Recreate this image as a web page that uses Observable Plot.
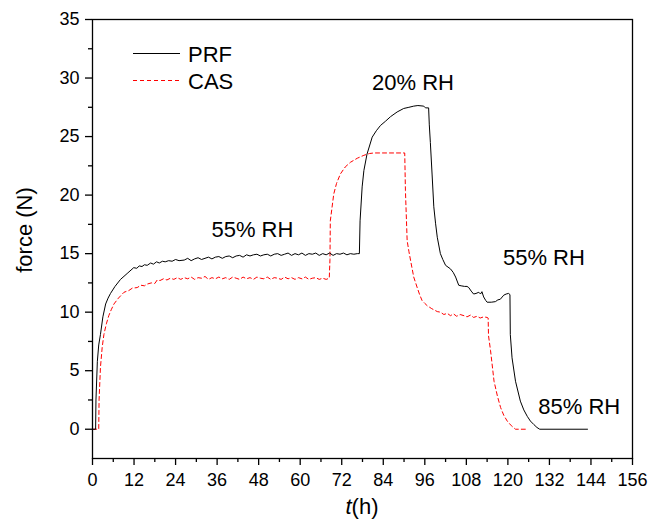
<!DOCTYPE html>
<html>
<head>
<meta charset="utf-8">
<script src="https://cdn.jsdelivr.net/npm/d3@7"></script>
<script src="https://cdn.jsdelivr.net/npm/@observablehq/plot@0.6"></script>
<style>
  html, body { margin: 0; padding: 0; background: white; }
  #chart { position: relative; width: 648px; height: 524px; }
</style>
</head>
<body>
<div id="chart"></div>
<script>
// ---- data ----
const prfT = [0, 0.9, 1.0, 1.4, 1.8, 2.3, 3.0, 3.8, 4.5, 5.2, 6.5, 8.1, 10.0, 11.9, 12.8, 13.5, 14.3, 15.0, 15.8, 16.8, 17.6, 18.5, 19.3, 20.2, 21.0, 22.0, 23.0, 24.0, 25.0,
  26.5, 27.5, 28.5, 29.5, 30.5, 31.5, 32.5, 33.5, 34.5, 35.5, 36.5, 37.5, 38.5, 39.5, 40.5, 41.5, 42.5, 43.5, 44.5, 45.5, 46.5, 47.5, 48.5, 49.5, 50.5, 51.5, 52.5, 53.5, 54.5, 55.5, 56.5, 57.5, 58.5, 59.5, 60.5, 61.5, 62.5, 63.5, 64.5, 65.5, 66.5, 67.5, 68.5, 69.5, 70.5, 71.5, 72.5, 73.5, 74.5, 75.5, 76.5, 77.1,
  77.3, 77.9, 78.4, 79.3, 80.8, 82.0, 83.2, 84.6, 86.1, 88.0, 89.9, 91.4, 92.8, 94.0, 95.7, 96.2, 97.1,
  97.3, 97.6, 98.1, 98.6, 99.1, 99.6, 100.5, 101.2, 102.0, 103.4, 104.2, 104.9, 105.8, 106.5, 107.5, 108.2, 108.7, 109.4, 110.1, 110.8, 111.6, 112.1, 112.5, 113.0, 113.6, 114.0, 115.2, 116.4, 117.1, 117.8, 118.8, 119.5, 120.2, 120.6,
  120.7, 121.2, 122.2, 123.6, 124.6, 125.6, 126.5, 127.5, 128.4, 129.2, 143.0];
const prfF = [0, 0, 2.5, 5.8, 7.2, 8.1, 9.6, 10.7, 11.2, 11.6, 12.2, 12.8, 13.3, 13.8, 13.75, 13.95, 13.9, 14.05, 14.0, 14.2, 14.1, 14.3, 14.2, 14.35, 14.3, 14.4, 14.35, 14.5, 14.4,
  14.45, 14.6, 14.4, 14.55, 14.65, 14.5, 14.6, 14.7, 14.55, 14.7, 14.75, 14.6, 14.75, 14.8, 14.65, 14.8, 14.85, 14.7, 14.9, 14.8, 14.9, 14.95, 14.8, 14.9, 14.95, 14.8, 14.95, 15.0, 14.85, 14.95, 15.05, 14.85, 15.0, 14.9, 15.05, 14.85, 15.0, 14.95, 15.05, 14.85, 15.0, 14.9, 15.05, 14.85, 15.0, 14.95, 15.05, 14.9, 15.0, 14.95, 15.0, 15.0,
  17.8, 20.7, 22.1, 23.5, 24.95, 25.5, 25.95, 26.3, 26.7, 27.1, 27.4, 27.5, 27.6, 27.65, 27.6, 27.45, 27.45,
  26.0, 24.5, 21.8, 19.0, 17.6, 16.4, 15.0, 14.5, 14.0, 13.7, 13.4, 13.0, 12.3, 12.25, 12.2, 12.2, 12.1, 11.8, 11.55, 11.6, 11.7, 11.55, 11.75, 11.3, 11.0, 10.85, 10.85, 10.9, 11.05, 11.1, 11.45, 11.55, 11.6, 11.5,
  8.1, 6.1, 4.1, 2.4, 1.65, 1.1, 0.7, 0.4, 0.15, 0, 0];

const casT = [0, 1.8, 1.9, 2.3, 2.8, 3.3, 4.0, 4.7, 5.4, 6.2, 7.5, 9.1, 10.5, 11.5, 12.9, 14.0, 15.0, 15.8, 17.0, 18.0, 18.7, 19.5, 20.5, 21.5, 22.5, 23.5, 24.5,
  25.5, 26.5, 27.5, 28.5, 29.5, 30.5, 31.5, 32.5, 33.5, 34.5, 35.5, 36.5, 37.5, 38.5, 39.5, 40.5, 41.5, 42.5, 43.5, 44.5, 45.5, 46.5, 47.5, 48.5, 49.5, 50.5, 51.5, 52.5, 53.5, 54.5, 55.5, 56.5, 57.5, 58.5, 59.5, 60.5, 61.5, 62.5, 63.5, 64.5, 65.5, 66.5, 67.5, 68.4,
  68.6, 68.7, 69.7, 70.5, 71.6, 73.0, 74.5, 76.5, 78.4, 80.0, 81.3, 90.2,
  90.3, 90.4, 90.9, 91.4, 91.9, 92.8, 93.8, 94.5, 95.2, 96.0, 96.7, 98.0, 99.6, 100.5, 101.5, 102.5, 103.4, 104.3, 105.2, 106.2, 107.3, 108.2, 109.2, 110.1, 111.1, 112.0, 113.0, 114.0, 114.3,
  114.4, 115.0, 116.0, 117.0, 117.9, 118.8, 119.8, 121.0, 122.2, 125.7];
const casF = [0, 0, 2.5, 5.3, 7.0, 8.1, 9.0, 9.7, 10.2, 10.7, 11.2, 11.7, 11.85, 12.05, 12.1, 12.3, 12.25, 12.4, 12.5, 12.45, 12.75, 12.7, 12.85, 12.75, 12.9, 12.8, 12.95,
  12.8, 12.95, 12.85, 13.0, 12.8, 12.95, 12.9, 13.05, 12.8, 12.95, 12.85, 13.0, 12.85, 12.95, 12.8, 13.0, 12.9, 12.8, 13.0, 12.85, 12.95, 12.8, 13.0, 12.9, 12.85, 13.0, 12.8, 12.95, 12.9, 12.8, 13.0, 12.85, 12.95, 12.8, 12.95, 12.85, 13.0, 12.8, 12.9, 12.95, 12.8, 12.9, 12.8, 12.9,
  14.5, 17.8, 20.1, 21.0, 21.8, 22.4, 22.8, 23.15, 23.4, 23.55, 23.6, 23.6,
  22.0, 20.4, 16.1, 15.2, 14.4, 13.0, 12.1, 11.5, 11.0, 10.75, 10.55, 10.3, 10.05, 10.0, 9.8, 9.9, 9.7, 9.85, 9.65, 9.8, 9.7, 9.6, 9.75, 9.55, 9.65, 9.5, 9.6, 9.55, 9.5,
  8.0, 6.7, 4.1, 2.8, 1.85, 1.2, 0.7, 0.3, 0, 0];

const xTicks = [0, 12, 24, 36, 48, 60, 72, 84, 96, 108, 120, 132, 144, 156];
const xMinor = [6, 18, 30, 42, 54, 66, 78, 90, 102, 114, 126, 138, 150];
const yTicks = [0, 5, 10, 15, 20, 25, 30, 35];
const yMinor = [2.5, 7.5, 12.5, 17.5, 22.5, 27.5, 32.5];

const noteLabels = ["20% RH", "55% RH", "55% RH", "85% RH"];
const noteT = [92.6, 46.2, 130.4, 140.6];
const noteF = [29.6, 17.05, 14.66, 1.93];

const seriesNames = ["PRF", "CAS"];
const axisXTitle = ["t", "(h)"];
const axisYTitle = "force (N)";

// ---- build tables ----
const prf = prfT.map((t, i) => ({t, f: prfF[i]}));
const cas = casT.map((t, i) => ({t, f: casF[i]}));
const notes = noteLabels.map((label, i) => ({label, t: noteT[i], f: noteF[i]}));

const font = "'Liberation Sans', Arial, sans-serif";

const chart = Plot.plot({
  width: 648,
  height: 524,
  marginLeft: 92,
  marginRight: 16,
  marginTop: 19,
  marginBottom: 66,
  x: {domain: [0, 156]},
  y: {domain: [-2.5, 35]},
  style: {fontFamily: font, fontSize: "18px", color: "black", background: "white", overflow: "visible"},
  marks: [
    Plot.axisX({ticks: xTicks, tickSize: 7, tickPadding: 8, fontSize: 18, label: null, strokeWidth: 1.3}),
    Plot.axisX({ticks: xMinor, tickSize: 4, tickFormat: () => "", label: null, strokeWidth: 1.3}),
    Plot.axisY({ticks: yTicks, tickSize: 7, tickPadding: 6, fontSize: 18, label: null, strokeWidth: 1.3}),
    Plot.axisY({ticks: yMinor, tickSize: 4, tickFormat: () => "", label: null, strokeWidth: 1.3}),
    Plot.line(cas, {x: "t", y: "f", stroke: "#ff0000", strokeWidth: 1, strokeDasharray: "4,3"}),
    Plot.line(prf, {x: "t", y: "f", stroke: "black", strokeWidth: 1}),
    Plot.text(notes, {x: "t", y: "f", text: "label", fontSize: 22, fill: "black"}),
    Plot.frame({stroke: "black", strokeWidth: 1.3})
  ]
});

document.getElementById("chart").appendChild(chart);

// ---- legend and axis titles (layout overlays) ----
const svg = d3.select(chart);
const lg = svg.append("g").attr("font-family", font).attr("font-size", 22).attr("text-anchor", "start");
lg.append("line").attr("x1", 133).attr("x2", 180).attr("y1", 53.5).attr("y2", 53.5)
  .attr("stroke", "black").attr("stroke-width", 1);
lg.append("text").attr("x", 188).attr("y", 62).attr("text-anchor", "start").text(seriesNames[0]);
lg.append("line").attr("x1", 133).attr("x2", 180).attr("y1", 80.5).attr("y2", 80.5)
  .attr("stroke", "#ff0000").attr("stroke-width", 1).attr("stroke-dasharray", "4,3");
lg.append("text").attr("x", 188).attr("y", 89).attr("text-anchor", "start").text(seriesNames[1]);

const xt = svg.append("text").attr("font-family", font).attr("font-size", 22)
  .attr("x", 362).attr("y", 514).attr("text-anchor", "middle");
xt.append("tspan").attr("font-style", "italic").text(axisXTitle[0]);
xt.append("tspan").text(axisXTitle[1]);

svg.append("text").attr("font-family", font).attr("font-size", 22)
  .attr("text-anchor", "middle")
  .attr("transform", "translate(32,230) rotate(-90)")
  .text(axisYTitle);
</script>
</body>
</html>
